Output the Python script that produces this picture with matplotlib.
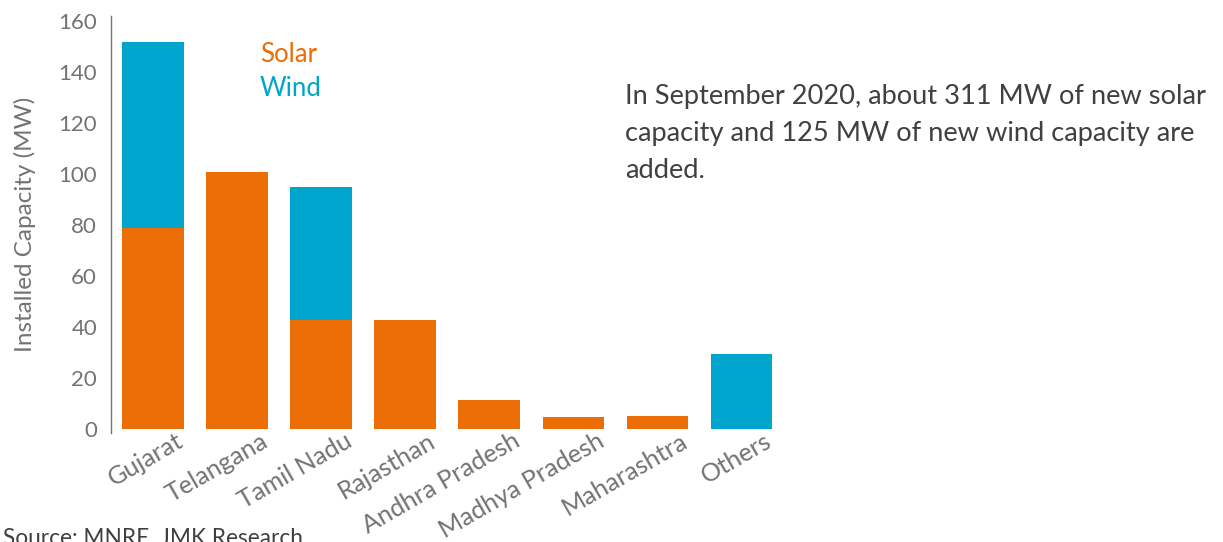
import matplotlib
matplotlib.use("Agg")
import matplotlib.pyplot as plt
import matplotlib.transforms as mtransforms
import numpy as np

states = ["Gujarat", "Telangana", "Tamil Nadu", "Rajasthan", "Andhra Pradesh",
          "Madhya Pradesh", "Maharashtra", "Others"]
solar = [79, 101, 43, 43, 11.4, 4.7, 5.1, 0]
wind = [73, 0, 52, 0, 0, 0, 0, 29.4]
yticks = [0, 20, 40, 60, 80, 100, 120, 140, 160]

ORANGE = "#EB6D06"
BLUE = "#00A5CE"
GREY = "#737373"
DARK = "#404040"

plt.rcParams["font.family"] = ["Lato", "DejaVu Sans"]

fig = plt.figure(figsize=(12.23, 5.42), dpi=100)
ax = fig.add_axes([111 / 1223, 109 / 542, 679 / 1223, 417 / 542])

x = np.arange(len(states))
ax.bar(x, solar, width=0.73, color=ORANGE, linewidth=0)
ax.bar(x, wind, width=0.73, bottom=solar, color=BLUE, linewidth=0)

ax.set_xlim(-0.5, 7.58)
ax.set_ylim(-1.5, 162)
ax.set_yticks(yticks)
ax.set_yticklabels([str(t) for t in yticks], fontsize=16, color=GREY)
ax.set_xticks(x)
ax.set_xticklabels(states, rotation=30, ha="right", rotation_mode="anchor",
                   fontsize=18.2, color=GREY)
ax.tick_params(axis="y", length=0, pad=10)
ax.tick_params(axis="x", length=0, pad=0)

# shift the slanted category names so they end just right of each bar centre
shift = mtransforms.ScaledTranslation(23 / 100, 4 / 100, fig.dpi_scale_trans)
for lbl in ax.get_xticklabels():
    lbl.set_transform(lbl.get_transform() + shift)

for s in ["top", "right", "bottom"]:
    ax.spines[s].set_visible(False)
ax.spines["left"].set_color(GREY)
ax.spines["left"].set_linewidth(1.0)

ax.set_ylabel("Installed Capacity (MW)", fontsize=17.5, color=GREY,
              labelpad=16)

# legend as coloured text
fig.text(260 / 1223, 1 - 54 / 542, "Solar", color=ORANGE, fontsize=18.5,
         va="center", ha="left")
fig.text(260 / 1223, 1 - 88 / 542, "Wind", color=BLUE, fontsize=18.5,
         va="center", ha="left")

fig.text(625 / 1223, 1 - 84 / 542,
         "In September 2020, about 311 MW of new solar\n"
         "capacity and 125 MW of new wind capacity are\n"
         "added.",
         color=DARK, fontsize=19.6, va="top", ha="left", linespacing=1.6)

fig.text(3 / 1223, 1 - 538 / 542, "Source: MNRE, JMK Research", color=DARK,
         fontsize=16.3, va="center", ha="left")

fig.savefig("out.png", dpi=100, facecolor="white")
